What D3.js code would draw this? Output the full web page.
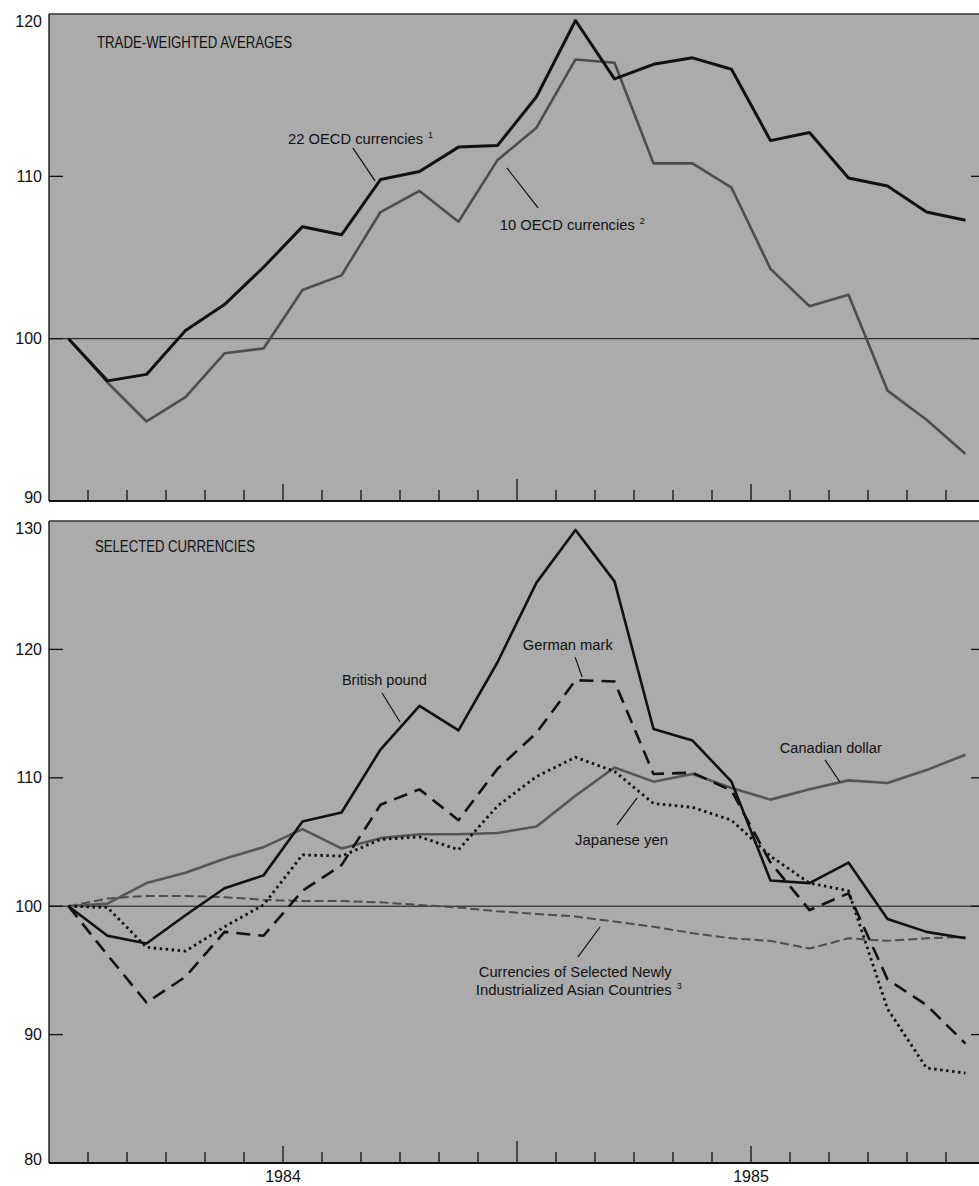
<!DOCTYPE html>
<html><head><meta charset="utf-8">
<script src="https://cdn.jsdelivr.net/npm/d3@7"></script>
<style>
body{margin:0;background:#fff}
svg{display:block}
text{font-family:"Liberation Sans",Arial,Helvetica,sans-serif;fill:#111}
</style>
</head><body>
<svg id="chart" width="979" height="1186"></svg>
<script>
// ---------- DATA ----------
const months = ["Jan 1984","Feb 1984","Mar 1984","Apr 1984","May 1984","Jun 1984",
  "Jul 1984","Aug 1984","Sep 1984","Oct 1984","Nov 1984","Dec 1984",
  "Jan 1985","Feb 1985","Mar 1985","Apr 1985","May 1985","Jun 1985",
  "Jul 1985","Aug 1985","Sep 1985","Oct 1985","Nov 1985","Dec 1985"];
const yearLabels = ["1984","1985"];
const topTicks = [90,100,110,120];
const bottomTicks = [80,90,100,110,120,130];

// Trade-weighted averages
const oecd22 = [100.0,97.4,97.8,100.5,102.1,104.4,106.9,106.4,109.8,110.3,111.8,111.9,
                114.9,119.6,116.0,116.9,117.3,116.6,112.2,112.7,109.9,109.4,107.8,107.3];
const oecd10 = [100.0,97.3,94.9,96.4,99.1,99.4,103.0,103.9,107.8,109.1,107.2,111.0,
                113.0,117.2,117.0,110.8,110.8,109.3,104.3,102.0,102.7,96.8,95.0,92.9];
// Selected currencies
const britishPound = [100.0,97.7,97.1,99.3,101.4,102.4,106.6,107.3,112.2,115.6,113.7,119.0,
                      125.2,129.3,125.3,113.8,112.9,109.7,102.0,101.8,103.4,99.0,98.0,97.5];
const germanMark   = [100.0,96.2,92.5,94.5,98.0,97.7,101.2,103.2,107.9,109.1,106.7,110.7,
                      113.5,117.6,117.5,110.3,110.4,109.0,103.4,99.7,101.0,94.3,92.3,89.3];
const japaneseYen  = [100.0,99.9,96.8,96.5,98.4,100.1,104.0,103.9,105.2,105.4,104.4,107.8,
                      110.1,111.6,110.5,108.0,107.7,106.7,103.9,101.8,101.2,92.0,87.4,87.0];
const canadianDollar = [100.0,100.2,101.8,102.6,103.7,104.6,106.0,104.5,105.3,105.6,105.6,105.7,
                        106.2,108.6,110.8,109.7,110.3,109.2,108.3,109.1,109.8,109.6,110.6,111.8];
const asianNICs    = [100.0,100.6,100.8,100.8,100.7,100.5,100.4,100.4,100.3,100.1,99.9,99.6,
                      99.4,99.2,98.8,98.4,97.9,97.5,97.3,96.7,97.5,97.3,97.5,97.6];

// ---------- LAYOUT ----------
const svg = d3.select("#chart");
const X0 = 49, X1 = 985;
const x = d3.scaleBand().domain(months).range([X0, X1]).padding(0);
const xc = m => x(m) + x.bandwidth()/2;
const xu = u => X0 + u * x.bandwidth();           // month-unit position for annotations

const panels = [
  {top:14, bottom:501, dom:[90,120], ticks:topTicks, title:"TRADE-WEIGHTED AVERAGES", titleW:195, titleU:1.23, titleV:117.9,
   series:[
     {data:oecd10, color:"#4d4d4d", w:2.6, dash:null},
     {data:oecd22, color:"#111", w:3.0, dash:null}
   ],
   notes:[
     {text:"22 OECD currencies", sup:"1", u:6.13, v:112.0, w:135, lead:[[7.79,111.75],[8.36,109.72]]},
     {text:"10 OECD currencies", sup:"2", u:11.56, v:106.7, w:135, lead:[[12.54,108.05],[11.74,110.52]]}
   ]},
  {top:521, bottom:1163, dom:[80,130], ticks:bottomTicks, title:"SELECTED CURRENCIES", titleW:160, titleU:1.18, titleV:127.6,
   series:[
     {data:asianNICs, color:"#4d4d4d", w:2.0, dash:"9,4"},
     {data:canadianDollar, color:"#555", w:2.6, dash:null},
     {data:japaneseYen, color:"#111", w:2.8, dash:"2.5,3.5"},
     {data:germanMark, color:"#111", w:2.6, dash:"14,8"},
     {data:britishPound, color:"#111", w:2.6, dash:null}
   ],
   notes:[
     {text:"British pound", u:7.51, v:117.2, w:85, lead:[[8.54,116.6],[9.0,114.35]]},
     {text:"German mark", u:12.15, v:119.95, w:90, lead:[[13.49,119.4],[13.67,117.85]]},
     {text:"Canadian dollar", u:18.74, v:111.93, w:102, lead:[[19.9,111.39],[20.28,109.67]]},
     {text:"Japanese yen", u:13.49, v:104.77, w:93, lead:[[14.56,106.32],[15.08,108.43]]},
     {text:"Currencies of Selected Newly", anchorEnd:true, u:15.97, v:94.49, w:193, lead:[[14.13,98.38],[13.56,96.04]]},
     {text:"Industrialized Asian Countries", sup:"3", anchorEnd:true, u:15.97, v:93.1, w:196, lead:null}
   ]}
];

panels.forEach((p, pi) => {
  const y = d3.scaleLinear().domain(p.dom).range([p.bottom, p.top]);
  const g = svg.append("g");
  const clipId = "clip" + pi;
  svg.append("clipPath").attr("id", clipId).append("rect")
    .attr("x", X0).attr("y", p.top).attr("width", X1 - X0).attr("height", p.bottom - p.top);

  // background
  g.append("rect").attr("x", X0).attr("y", p.top).attr("width", X1 - X0).attr("height", p.bottom - p.top)
    .attr("fill", "#ababab");

  // frame
  g.append("line").attr("x1", X0).attr("x2", X1).attr("y1", p.top).attr("y2", p.top).attr("stroke", "#333").attr("stroke-width", 1.5);
  g.append("line").attr("x1", X0).attr("x2", X0).attr("y1", p.top).attr("y2", p.bottom).attr("stroke", "#222").attr("stroke-width", 1.5);
  g.append("line").attr("x1", X0).attr("x2", X1).attr("y1", p.bottom).attr("y2", p.bottom).attr("stroke", "#111").attr("stroke-width", 2);

  // reference line at 100
  g.append("line").attr("x1", X0).attr("x2", X1).attr("y1", y(100)).attr("y2", y(100)).attr("stroke", "#111").attr("stroke-width", 1);

  // y ticks (inward, both sides) and labels
  p.ticks.forEach((t, ti) => {
    const yy = y(t);
    if (ti > 0 && ti < p.ticks.length - 1) {
      g.append("line").attr("x1", X0).attr("x2", X0 + 14).attr("y1", yy).attr("y2", yy).attr("stroke", "#111").attr("stroke-width", 1.3);
      g.append("line").attr("x1", X1 - 14).attr("x2", X1).attr("y1", yy).attr("y2", yy).attr("stroke", "#111").attr("stroke-width", 1.3);
    }
    let dy = 0;
    if (ti === p.ticks.length - 1) dy = 7;
    if (ti === 0) dy = -4;
    g.append("text").attr("x", 42).attr("y", yy + dy).attr("text-anchor", "end")
      .attr("dominant-baseline", "central").attr("font-size", 16).text(t);
  });

  // x ticks (month boundaries)
  months.forEach((m, i) => {
    if (i === 0) return;
    const xx = x(m);
    const len = (i === 12) ? 22 : (i % 6 === 0 ? 17 : 11);
    g.append("line").attr("x1", xx).attr("x2", xx).attr("y1", p.bottom).attr("y2", p.bottom - len)
      .attr("stroke", "#111").attr("stroke-width", 1.3);
  });

  // series
  const line = d3.line().x((d, i) => xc(months[i])).y(d => y(d));
  const sg = g.append("g").attr("clip-path", `url(#${clipId})`);
  p.series.forEach(s => {
    sg.append("path").datum(s.data).attr("d", line)
      .attr("fill", "none").attr("stroke", s.color).attr("stroke-width", s.w)
      .attr("stroke-linejoin", "round")
      .attr("stroke-dasharray", s.dash);
  });

  // title
  g.append("text").attr("x", xu(p.titleU)).attr("y", y(p.titleV)).attr("font-size", 16)
    .attr("textLength", p.titleW).attr("lengthAdjust", "spacingAndGlyphs").text(p.title);

  // annotations: font size fitted so that the natural width equals the measured width
  p.notes.forEach(n => {
    let xs = xu(n.u);
    if (n.anchorEnd) xs = xu(n.u) - n.w;
    const t = g.append("text").attr("x", xs).attr("y", y(n.v)).attr("font-size", 16).text(n.text);
    const natural = t.node().getComputedTextLength();
    t.attr("font-size", (16 * n.w / natural).toFixed(2));
    if (n.sup) {
      g.append("text").attr("x", xs + n.w + 5).attr("y", y(n.v) - 6).attr("font-size", 9).text(n.sup);
    }
    if (n.lead) {
      g.append("line").attr("x1", xu(n.lead[0][0])).attr("y1", y(n.lead[0][1]))
        .attr("x2", xu(n.lead[1][0])).attr("y2", y(n.lead[1][1]))
        .attr("stroke", "#111").attr("stroke-width", 1.2);
    }
  });

  // year labels on bottom panel
  if (pi === 1) {
    yearLabels.forEach((yl, k) => {
      g.append("text").attr("x", x(months[k * 12 + 6])).attr("y", p.bottom + 19)
        .attr("text-anchor", "middle").attr("font-size", 16).text(yl);
    });
  }
});
</script>
</body></html>
